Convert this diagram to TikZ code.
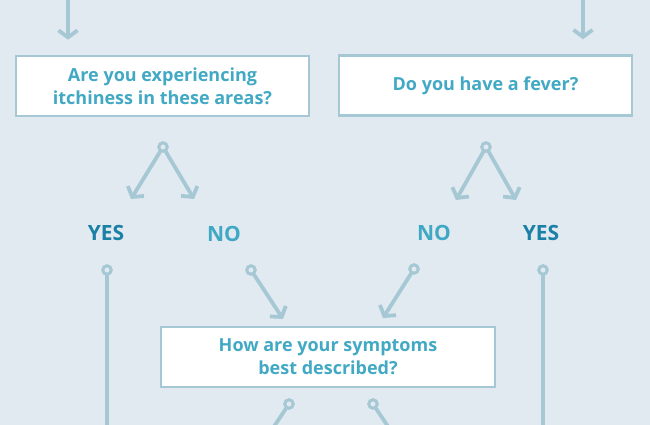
\documentclass[tikz,border=0pt]{standalone}
\usepackage{fontspec}
\setmainfont{Open Sans}
\usetikzlibrary{arrows.meta}

\definecolor{paper}{HTML}{E1EAF0}
\definecolor{wire}{HTML}{A6C8D5}
\definecolor{ask}{HTML}{42A9C5}
\definecolor{yes}{HTML}{1B80A6}
\definecolor{no}{HTML}{3FA8C4}

\begin{document}
\begin{tikzpicture}[x=1pt, y=-1pt,
  question/.style={draw=wire, line width=2.5pt, fill=white, align=center, minimum height=60pt,
    text=ask, font=\fontsize{18}{23}\selectfont\bfseries},
  answer/.style={font=\fontsize{21}{24}\selectfont\bfseries},
  dot/.style={circle, draw=wire, line width=3pt, inner sep=0pt, minimum size=8.5pt},
  flow/.style={draw=wire, line width=3.8pt, line cap=round},
  >={Straight Barb[length=7pt, width=19pt]}]

\useasboundingbox (0, 0) rectangle (650, 425);
\fill [paper] (0, 0) rectangle (650, 425);

\node (1) [question, minimum width=293pt] at (162.5, 86) {Are you experiencing \\ itchiness in these areas?};
\node (2) [question, minimum width=293pt] at (485.5, 85.5) {Do you have a fever?};
\node (3) [question, minimum width=334pt] at (328, 357) {How are your symptoms \\ best described?};

\node (y1) [answer, text=yes] at (106, 233) {YES};
\node (n1) [answer, text=no] at (224, 234) {NO};
\node (n2) [answer, text=no] at (434, 233) {NO};
\node (y2) [answer, text=yes] at (541, 233) {YES};

\node (f1) [dot] at (163, 147) {};
\node (f2) [dot] at (486, 147) {};
\node (d1) [dot] at (107, 270) {};
\node (d2) [dot] at (251, 270) {};
\node (d3) [dot] at (414, 269) {};
\node (d4) [dot] at (543, 270) {};
\node (d5) [dot] at (289, 404) {};
\node (d6) [dot] at (373, 404) {};

\coordinate (t1) at (68, -5);
\coordinate (t2) at (583, -5);
\coordinate (a1) at (131, 199);
\coordinate (a2) at (194, 199);
\coordinate (a3) at (456, 200);
\coordinate (a4) at (516, 200);
\coordinate (a5) at (283, 319);
\coordinate (a6) at (383, 318);
\coordinate (b1) at (107, 432);
\coordinate (b2) at (543, 432);
\coordinate (b3) at (271, 431);
\coordinate (b4) at (391, 431);

\draw [flow, ->, shorten >=15pt] (t1) -- (t1 |- 1.north);
\draw [flow, ->, shorten >=15pt] (t2) -- (t2 |- 2.north);
\draw [flow, ->] (f1) -- (a1);
\draw [flow, ->] (f1) -- (a2);
\draw [flow, ->] (f2) -- (a3);
\draw [flow, ->] (f2) -- (a4);
\draw [flow, ->] (d2) -- (a5);
\draw [flow, ->] (d3) -- (a6);
\draw [flow] (d1) -- (b1);
\draw [flow] (d4) -- (b2);
\draw [flow] (d5) -- (b3);
\draw [flow] (d6) -- (b4);

\end{tikzpicture}
\end{document}
